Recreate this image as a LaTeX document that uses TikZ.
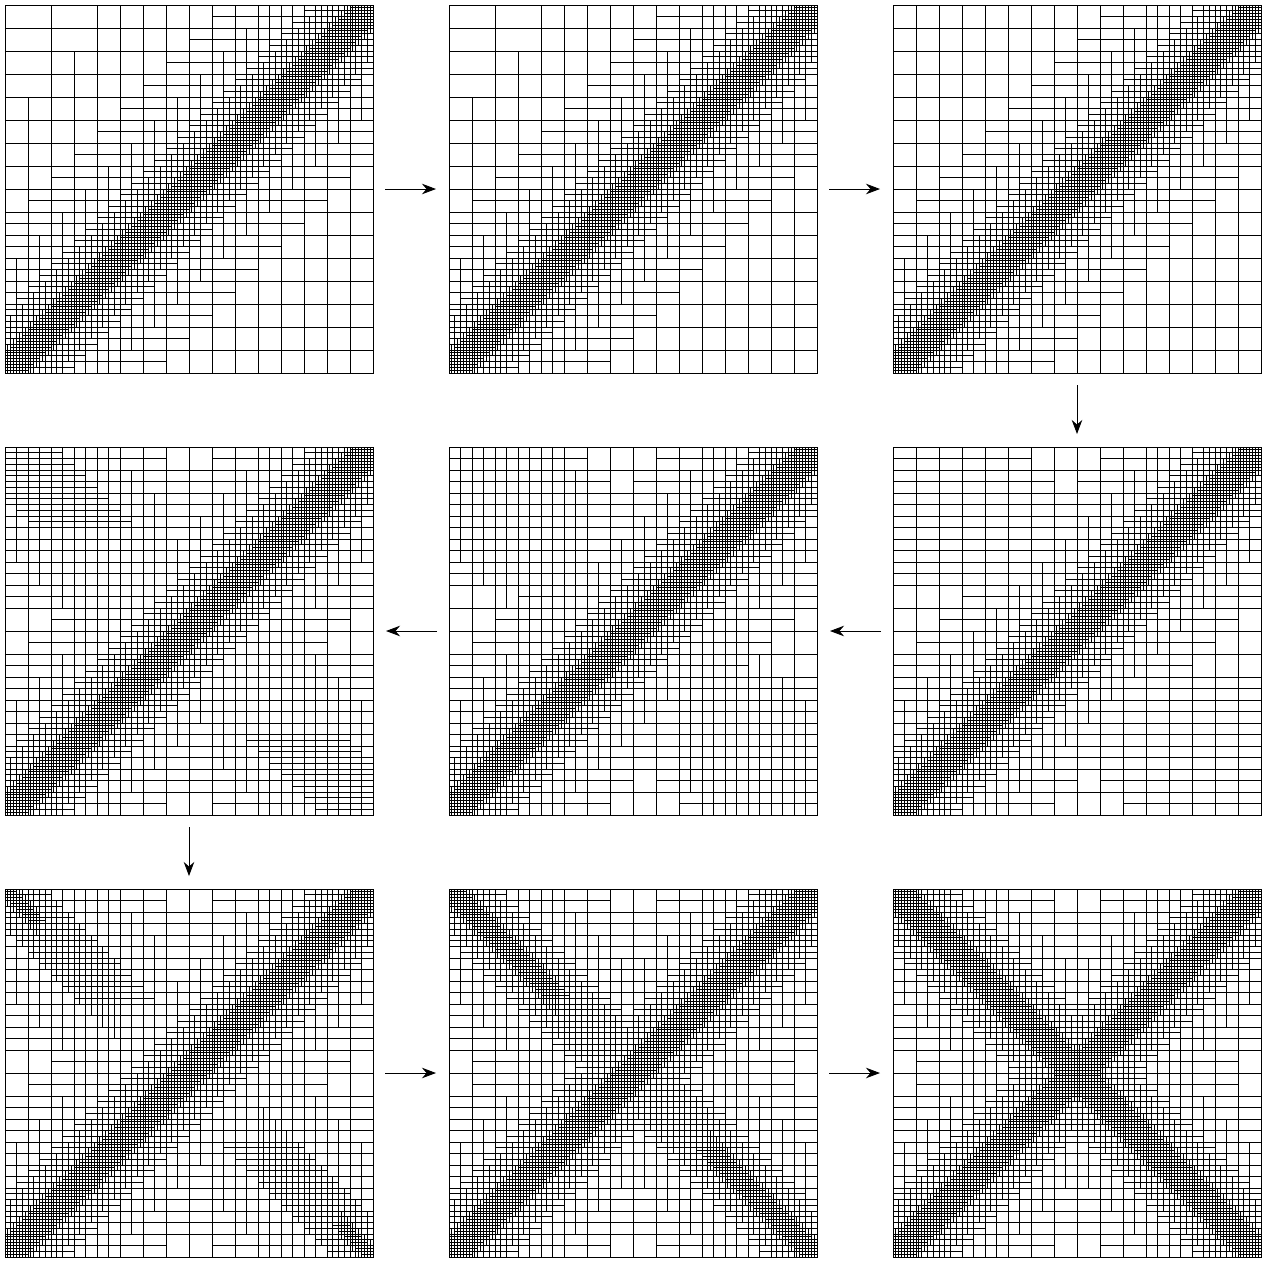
\documentclass[tikz,border=0pt]{standalone}
\usetikzlibrary{positioning,arrows.meta}

\tikzset{
    panel/.style={draw, line width=0.5pt, minimum width=7.36cm, minimum height=7.36cm, inner sep=0pt, outer sep=0pt},
    meshline/.style={line width=0.5pt},
    flow/.style={-{Stealth[length=8pt,width=6pt]}, line width=0.5pt, shorten <=0.24cm, shorten >=0.26cm}
}

% 1/16 grid; #1 = how far the odd columns reach above the diagonal
\newcommand\basegrid[1]{%
    \foreach \k in {1,...,15}{\draw[meshline] (0,\k/16) -- (1,\k/16);}
    \foreach \k in {2,4,...,14}{\draw[meshline] (\k/16,0) -- (\k/16,1);}
    \foreach \k in {1,3,...,15}{%
        \pgfmathsetmacro\spanhi{min(1,ceil((\k/16+#1)*8)/8)}%
        \draw[meshline] (\k/16,0) -- (\k/16,\spanhi);
    }}

% new lines of one level: #1 lines, #2/#3 half width (vertical/horizontal),
% #4 = 0 diagonal, 1 anti-diagonal, #5 reach from the corners
\newcommand\bandlines[5]{%
    \foreach \i in {1,...,#1}{%
        \pgfmathsetmacro\linepos{(2*\i-1)/(2*#1)}%
        \pgfmathsetmacro\cornerd{min(\linepos,1-\linepos)}%
        \pgfmathsetmacro\ctr{#4+(1-2*#4)*\linepos}%
        \ifdim\cornerd pt<#5pt
            \ifdim#2pt>0pt
                \pgfmathsetmacro\spanlo{max(0,floor((\ctr-#2)*#1)/#1)}%
                \pgfmathsetmacro\spanhi{min(1,ceil((\ctr+#2)*#1)/#1)}%
                \draw[meshline] (\linepos,\spanlo) -- (\linepos,\spanhi);
            \fi
            \ifdim#3pt>0pt
                \pgfmathsetmacro\spanlo{max(0,floor((\ctr-#3)*#1)/#1)}%
                \pgfmathsetmacro\spanhi{min(1,ceil((\ctr+#3)*#1)/#1)}%
                \draw[meshline] (\spanlo,\linepos) -- (\spanhi,\linepos);
            \fi
        \fi
    }}

\newcommand\diagband{%
    \bandlines{16}{0.28}{0.40}{0}{1}%
    \bandlines{32}{0.11}{0.15}{0}{1}%
    \bandlines{64}{0.06}{0.045}{0}{1}}

\begin{document}
\begin{tikzpicture}
    \useasboundingbox (0,0) rectangle (25.42,-25.22);

    \node[panel] (a) at (3.78,-3.78) {};
    \node[panel] (b) [right=1.52cm of a] {};
    \node[panel] (c) [right=1.52cm of b] {};
    \node[panel] (d) [below=1.48cm of c] {};
    \node[panel] (e) [left=1.52cm of d] {};
    \node[panel] (f) [left=1.52cm of e] {};
    \node[panel] (g) [below=1.48cm of f] {};
    \node[panel] (h) [right=1.52cm of g] {};
    \node[panel] (i) [right=1.52cm of h] {};

    \begin{scope}[shift={(a.south west)}, x=7.36cm, y=7.36cm]
        \basegrid{0.57}\diagband
    \end{scope}
    \begin{scope}[shift={(b.south west)}, x=7.36cm, y=7.36cm]
        \basegrid{0.57}\diagband
    \end{scope}
    \begin{scope}[shift={(c.south west)}, x=7.36cm, y=7.36cm]
        \basegrid{1}\diagband
    \end{scope}
    \begin{scope}[shift={(d.south west)}, x=7.36cm, y=7.36cm]
        \basegrid{1}\diagband
        \bandlines{16}{0}{0.30}{1}{0.38}
    \end{scope}
    \begin{scope}[shift={(e.south west)}, x=7.36cm, y=7.36cm]
        \basegrid{1}\diagband
        \bandlines{16}{0.28}{0.32}{1}{0.36}
    \end{scope}
    \begin{scope}[shift={(f.south west)}, x=7.36cm, y=7.36cm]
        \basegrid{1}\diagband
        \bandlines{16}{0.28}{0.35}{1}{0.42}
        \bandlines{32}{0}{0.12}{1}{0.22}
    \end{scope}
    \begin{scope}[shift={(g.south west)}, x=7.36cm, y=7.36cm]
        \basegrid{1}\diagband
        \bandlines{16}{0.28}{0.36}{1}{0.46}
        \bandlines{32}{0.08}{0.10}{1}{0.32}
        \bandlines{64}{0.03}{0.02}{1}{0.10}
    \end{scope}
    \begin{scope}[shift={(h.south west)}, x=7.36cm, y=7.36cm]
        \basegrid{1}\diagband
        \bandlines{16}{0.28}{0.38}{1}{1}
        \bandlines{32}{0.09}{0.13}{1}{1}
        \bandlines{64}{0.04}{0.03}{1}{0.30}
    \end{scope}
    \begin{scope}[shift={(i.south west)}, x=7.36cm, y=7.36cm]
        \basegrid{1}\diagband
        \bandlines{16}{0.28}{0.40}{1}{1}
        \bandlines{32}{0.11}{0.15}{1}{1}
        \bandlines{64}{0.06}{0.045}{1}{1}
    \end{scope}

    \draw[flow] (a) -- (b);
    \draw[flow] (b) -- (c);
    \draw[flow] (c) -- (d);
    \draw[flow] (d) -- (e);
    \draw[flow] (e) -- (f);
    \draw[flow] (f) -- (g);
    \draw[flow] (g) -- (h);
    \draw[flow] (h) -- (i);
\end{tikzpicture}
\end{document}
